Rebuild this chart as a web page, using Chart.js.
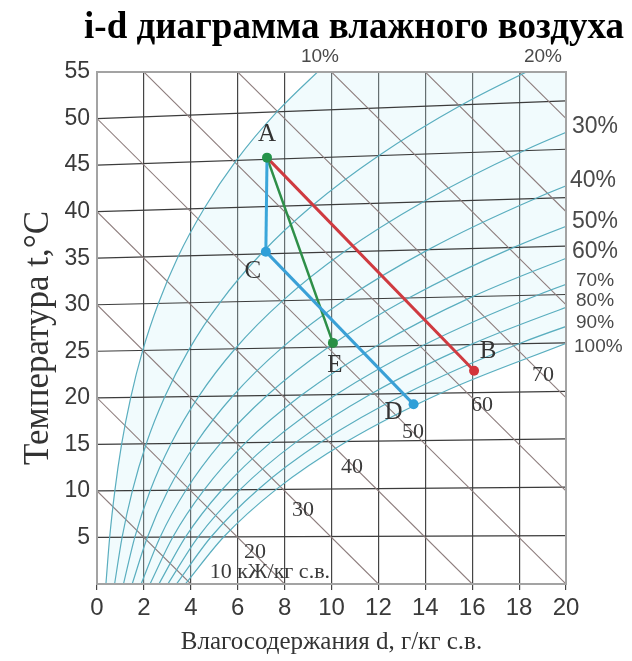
<!DOCTYPE html>
<html>
<head>
<meta charset="utf-8">
<script src="https://cdn.jsdelivr.net/npm/chart.js@4.4.0/dist/chart.umd.min.js"></script>
<style>
  html, body { margin: 0; padding: 0; background: #fff; }
</style>
</head>
<body>
<canvas id="idChart" width="632" height="661"></canvas>
<script>
// isotherms: value at d = 0 and where the line meets d = 20
const isoTemps = [5, 10, 15, 20, 25, 30, 35, 40, 45, 50];
const isoRightY = [5.2, 10.4, 15.6, 20.7, 25.9, 31.1, 36.3, 41.5, 46.7, 51.9];

// enthalpy lines (kJ/kg): start at (0, i), reach t = 0 at enthalpyZeroD
const enthalpyValues = [10, 20, 30, 40, 50, 60, 70, 80, 90, 100];
const enthalpyZeroD = [4, 8, 12, 16, 20, 24, 28, 32, 36, 40];

// relative humidity curves, [d, y]
const rhLevels = [10, 20, 30, 40, 50, 60, 70, 80, 90, 100];
const rh10 = [[0.38,0],[0.54,5.0],[0.76,10.01],[1.05,15.03],[1.44,20.05],[1.95,25.09],[2.62,30.15],[3.47,35.23],[4.57,40.34],[5.94,45.5],[7.67,50.71],[9.82,56.0]];
const rh20 = [[0.75,0],[1.07,5.01],[1.51,10.03],[2.10,15.06],[2.89,20.11],[3.92,25.18],[5.26,30.29],[6.99,35.45],[9.20,40.68],[12.01,46.0],[15.54,51.45],[19.97,57.04]];
const rh30 = [[1.13,0],[1.61,5.01],[2.27,10.04],[3.16,15.09],[4.34,20.16],[5.89,25.27],[7.92,30.44],[10.54,35.69],[13.90,41.03],[18.18,46.52],[23.61,52.20]];
const rh40 = [[1.50,0],[2.15,5.02],[3.03,10.06],[4.22,15.12],[5.80,20.22],[7.88,25.37],[10.60,30.59],[14.13,35.92],[18.68,41.39],[24.48,47.05]];
const rh50 = [[1.88,0],[2.69,5.03],[3.79,10.07],[5.28,15.15],[7.26,20.27],[9.88,25.46],[13.31,30.74],[17.77,36.16],[23.52,41.75]];
const rh60 = [[2.26,0],[3.23,5.03],[4.56,10.08],[6.34,15.18],[8.74,20.32],[11.90,25.55],[16.04,30.90],[21.44,36.40]];
const rh70 = [[2.64,0],[3.77,5.04],[5.32,10.10],[7.41,15.21],[10.22,20.38],[13.92,25.65],[18.80,31.05],[25.16,36.64]];
const rh80 = [[3.02,0],[4.31,5.04],[6.09,10.11],[8.49,15.24],[11.70,20.44],[15.96,25.74],[21.58,31.20]];
const rh90 = [[3.39,0],[4.86,5.05],[6.86,10.13],[9.57,15.27],[13.20,20.49],[18.02,25.84],[24.38,31.36]];
const rh100 = [[3.77,0],[5.40,5.05],[7.63,10.14],[10.65,15.30],[14.70,20.55],[20.08,25.93]];
const rhCurves = [rh10, rh20, rh30, rh40, rh50, rh60, rh70, rh80, rh90, rh100];

// process states
const pointNames = ['A', 'B', 'C', 'D', 'E'];
const pointD = [7.25, 16.08, 7.2, 13.5, 10.06];
const pointT = [45.8, 22.9, 35.7, 19.3, 25.9];
const processes = [['A', 'B'], ['A', 'C'], ['C', 'D'], ['A', 'E']];

// label texts
const enthalpyLabelText = ['10 кЖ/кг с.в.', '20', '30', '40', '50', '60', '70'];
const rhLabelText = ['10%', '20%', '30%', '40%', '50%', '60%', '70%', '80%', '90%', '100%'];

// ---- styling / placement (not data) ----
const pointColors = { A: '#24934a', B: '#d3343b', C: '#2f9fd8', D: '#2f9fd8', E: '#2a8f45' };
const processColors = ['#cf3a40', '#3aa6da', '#3aa0d6', '#2e8f48'];
const processWidths = [3, 3, 3, 2.5];
const enthalpyLabelAt = [[7.37, 1.29], [6.74, 3.44], [8.78, 7.95], [10.87, 12.57], [13.48, 16.33], [16.42, 19.23], [19.02, 22.45]];
const rhLabelPx = [[320, 57, 19, 'center'], [543, 57, 19, 'center'], [572, 127, 23, 'left'], [570, 181, 23, 'left'],
  [572, 222, 23, 'left'], [572, 252, 23, 'left'], [576, 281, 19, 'left'], [576, 301, 19, 'left'],
  [576, 323, 19, 'left'], [574, 347, 19, 'left']];
const pointLabelOffset = { A: [0, -23], B: [14, -19], C: [-13, 20], D: [-20, 8], E: [2, 23] };

const toXY = pts => pts.map(p => ({ x: p[0], y: p[1] }));

const datasets = [];

// state markers (on top)
pointNames.forEach((n, i) => {
  datasets.push({
    data: [{ x: pointD[i], y: pointT[i] }],
    pointRadius: 5, pointBackgroundColor: pointColors[n], pointBorderWidth: 0,
    showLine: false
  });
});

// process lines
processes.forEach((pr, k) => {
  const a = pointNames.indexOf(pr[0]), b = pointNames.indexOf(pr[1]);
  datasets.push({
    data: [{ x: pointD[a], y: pointT[a] }, { x: pointD[b], y: pointT[b] }],
    showLine: true, borderColor: processColors[k], borderWidth: processWidths[k], pointRadius: 0
  });
});

// RH curves
rhCurves.forEach(c => {
  datasets.push({
    data: toXY(c), showLine: true, borderColor: '#5aaebf', borderWidth: 1.2,
    pointRadius: 0, cubicInterpolationMode: 'monotone'
  });
});

// enthalpy lines
enthalpyValues.forEach((h, i) => {
  datasets.push({
    data: [{ x: 0, y: h }, { x: enthalpyZeroD[i], y: 0 }],
    showLine: true, borderColor: '#8d7d7d', borderWidth: 1.1, pointRadius: 0
  });
});

// isotherms
isoTemps.forEach((t, i) => {
  datasets.push({
    data: [{ x: 0, y: t }, { x: 20, y: isoRightY[i] }],
    showLine: true, borderColor: '#3c3c3c', borderWidth: 1.2, pointRadius: 0
  });
});

// faint tint of the humid zone between 10% and 100%
datasets.push({
  data: toXY(rh10).concat([{ x: 20, y: 57 }]).concat(toXY(rh100).reverse()),
  showLine: true, borderWidth: 0, borderColor: 'rgba(0,0,0,0)', pointRadius: 0,
  fill: 'shape', backgroundColor: 'rgba(200,238,246,0.25)'
});

const overlay = {
  id: 'idOverlay',
  afterDatasetsDraw(chart) {
    const { ctx, chartArea: a, scales: { x, y } } = chart;
    ctx.save();
    // frame
    ctx.strokeStyle = '#a3a3a3';
    ctx.lineWidth = 2;
    ctx.strokeRect(a.left, a.top, a.right - a.left, a.bottom - a.top);

    // enthalpy labels
    ctx.fillStyle = '#3a3a3a';
    ctx.textBaseline = 'middle';
    ctx.textAlign = 'center';
    ctx.font = '22px "Liberation Serif", "Times New Roman", serif';
    enthalpyLabelText.forEach((s, i) => {
      ctx.fillText(s, x.getPixelForValue(enthalpyLabelAt[i][0]), y.getPixelForValue(enthalpyLabelAt[i][1]));
    });

    // state labels
    ctx.font = '25px "Liberation Serif", "Times New Roman", serif';
    ctx.fillStyle = '#333';
    pointNames.forEach((n, i) => {
      const o = pointLabelOffset[n];
      ctx.fillText(n, x.getPixelForValue(pointD[i]) + o[0], y.getPixelForValue(pointT[i]) + o[1]);
    });
    ctx.restore();
  },
  afterDraw(chart) {
    const { ctx } = chart;
    ctx.save();
    ctx.fillStyle = '#000';
    ctx.textAlign = 'center';
    ctx.textBaseline = 'alphabetic';
    ctx.font = 'bold 37px "Liberation Serif", "Times New Roman", serif';
    ctx.fillText('i-d диаграмма влажного воздуха', 354, 38);

    // y title
    ctx.save();
    ctx.translate(39, 338);
    ctx.rotate(-Math.PI / 2);
    ctx.fillStyle = '#333';
    ctx.textBaseline = 'middle';
    ctx.font = '35px "Liberation Serif", "Times New Roman", serif';
    ctx.fillText('Температура t,°C', 0, 0);
    ctx.restore();

    // RH labels
    ctx.fillStyle = '#4a4a4a';
    ctx.textBaseline = 'middle';
    rhLabelText.forEach((s, i) => {
      const p = rhLabelPx[i];
      ctx.textAlign = p[3];
      ctx.font = p[2] + 'px "Liberation Sans", Arial, sans-serif';
      ctx.fillText(s, p[0], p[1]);
    });
    ctx.restore();
  }
};

new Chart(document.getElementById('idChart'), {
  type: 'scatter',
  data: { datasets: datasets },
  options: {
    responsive: false,
    animation: false,
    events: [],
    layout: { padding: { top: 72, right: 66, left: 0, bottom: 0 } },
    plugins: { legend: { display: false }, tooltip: { enabled: false } },
    scales: {
      x: {
        type: 'linear', min: 0, max: 20,
        afterFit(scale) { scale.height = 77; },
        ticks: { stepSize: 2, padding: 4, color: '#3a3a3a', font: { family: '"Liberation Sans", Arial, sans-serif', size: 24 } },
        grid: { color: '#454545', lineWidth: 1.2, drawTicks: true, tickLength: 6 },
        border: { display: false },
        title: {
          display: true, text: 'Влагосодержания d, г/кг с.в.', color: '#333',
          font: { family: '"Liberation Serif", "Times New Roman", serif', size: 25 },
          padding: { top: 0, bottom: 4 }
        }
      },
      y: {
        type: 'linear', min: 0, max: 55,
        afterFit(scale) { scale.width = 97; },
        ticks: {
          stepSize: 5, padding: 7, color: '#3a3a3a',
          font: { family: '"Liberation Sans", Arial, sans-serif', size: 23 },
          callback: v => (v === 0 ? '' : v)
        },
        grid: { display: false, drawTicks: false },
        border: { display: false }
      }
    }
  },
  plugins: [overlay]
});
</script>
</body>
</html>
